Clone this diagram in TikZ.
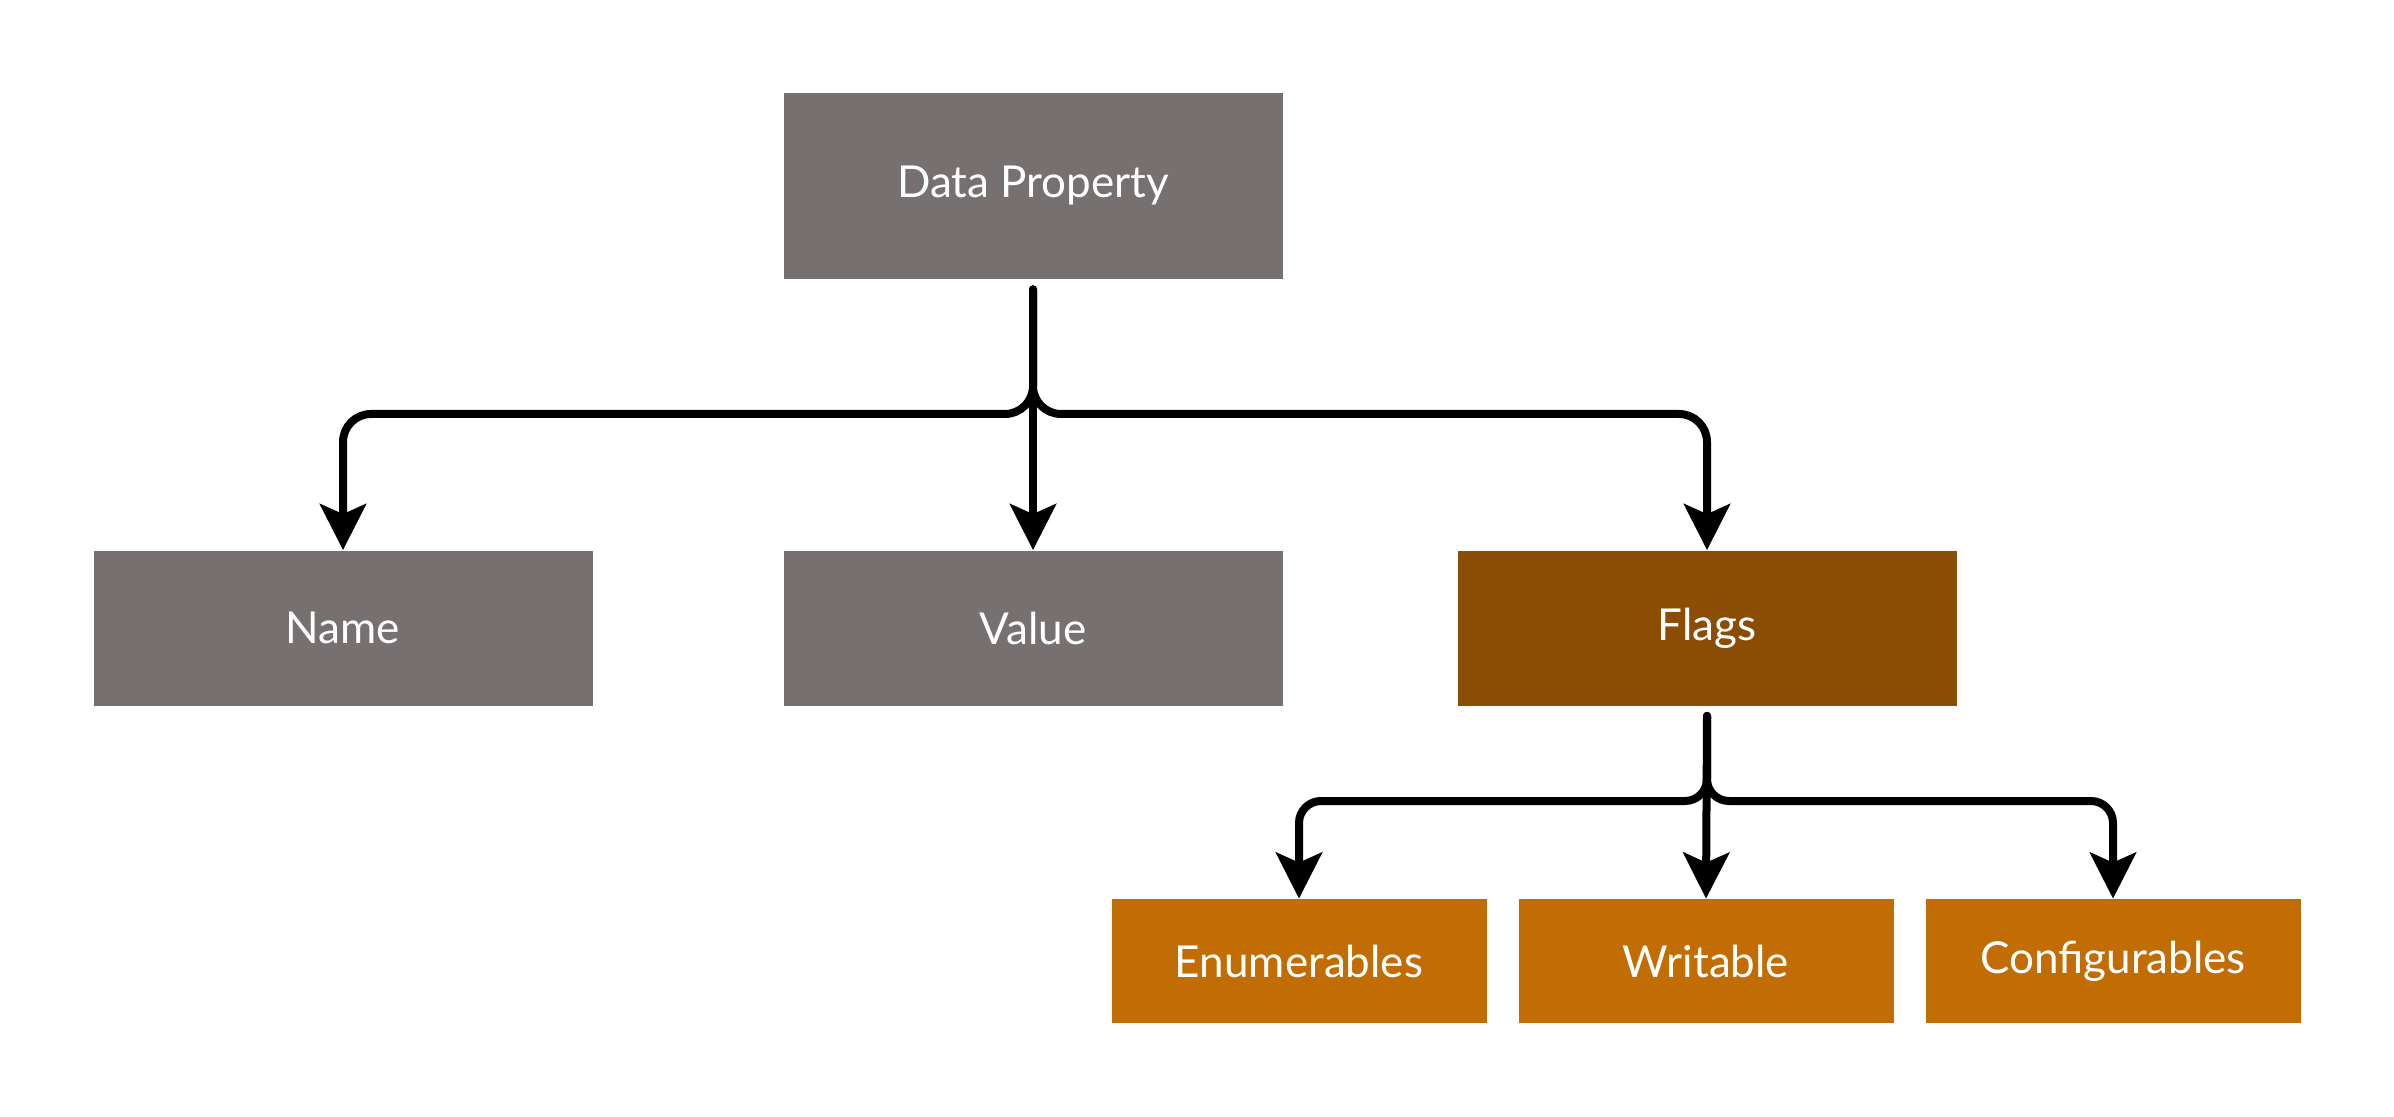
\documentclass[tikz,border=0pt]{standalone}
\usepackage{fontspec}
\setmainfont{Lato}
\usetikzlibrary{arrows.meta}
\definecolor{boxgray}{RGB}{118,113,112}
\definecolor{flagbrown}{RGB}{139,77,3}
\definecolor{leaforange}{RGB}{193,109,3}
\tikzset{
  bigbox/.style={rectangle, fill=boxgray, text=white, minimum width=249.5pt, minimum height=77.5pt, inner sep=0pt, font=\fontsize{22}{26}\selectfont},
  smallbox/.style={rectangle, fill=leaforange, text=white, minimum width=187.5pt, minimum height=62pt, inner sep=0pt, font=\fontsize{22}{26}\selectfont},
  conn/.style={line width=4pt, line cap=round, -{Stealth[length=23pt, width=23pt, inset=5pt]}},
}
\begin{document}
\begin{tikzpicture}[x=0.5pt, y=-0.5pt]
\useasboundingbox (0,0) rectangle (2394,1117);
\node[bigbox, minimum height=93pt] (dp) at (1033,186) {Data Property};
\node[bigbox] (name) at (343,628) {Name};
\node[bigbox] (value) at (1033,628) {Value};
\node[bigbox, fill=flagbrown] (flags) at (1707,628) {Flags};
\node[smallbox] (enum) at (1299,961) {Enumerables};
\node[smallbox] (writ) at (1706,961) {Writable};
\node[smallbox] (conf) at (2113,961) {Configurables};
\coordinate (s1) at ([yshift=-5pt]dp.south);
\coordinate (s2) at ([yshift=-5pt]flags.south);
% top level
\draw[conn, rounded corners=14pt] (s1) -- (1033,414) -| (name.north);
\draw[conn, rounded corners=14pt] (s1) -- (1033,414) -| (flags.north);
\draw[conn] (s1) -- (value.north);
% flags level
\draw[conn, rounded corners=11pt] (s2) -- (1707,801) -| (enum.north);
\draw[conn, rounded corners=11pt] (s2) -- (1707,801) -| (conf.north);
\draw[conn] (s2) -- (writ.north);
\end{tikzpicture}
\end{document}
